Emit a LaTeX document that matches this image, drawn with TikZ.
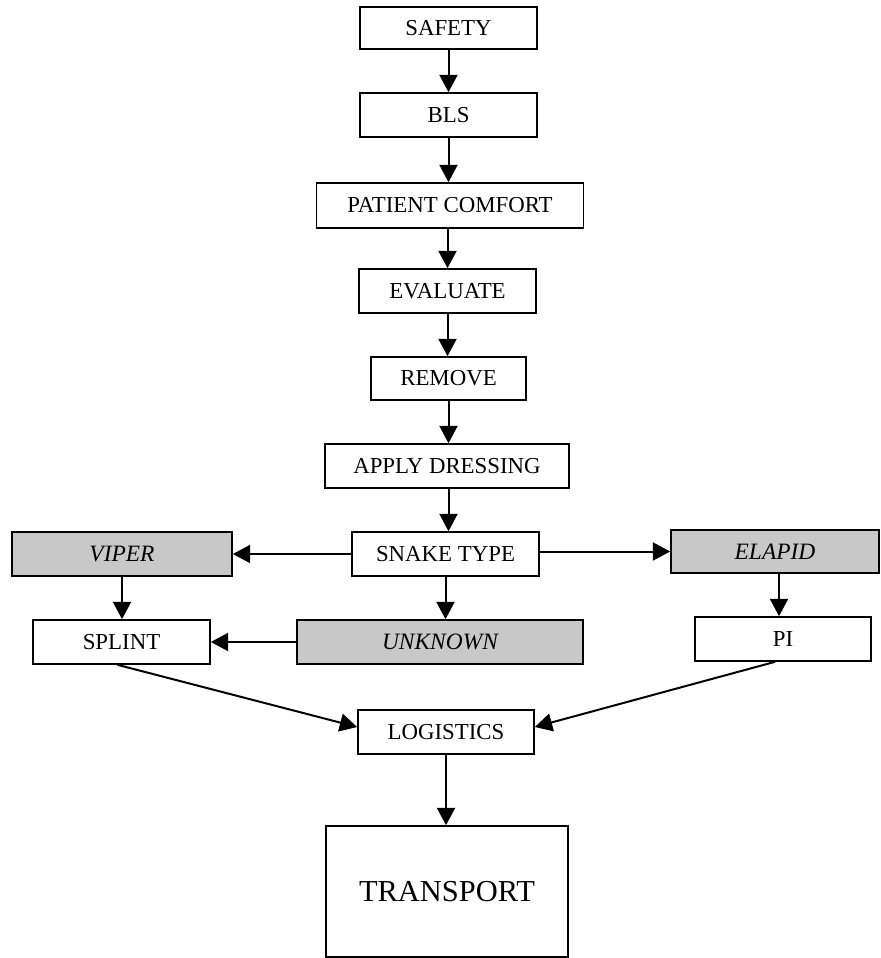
\documentclass[tikz,border=0pt]{standalone}
\usepackage{fontspec}
\setmainfont{Liberation Serif}
\usetikzlibrary{arrows.meta}
\definecolor{snakegray}{RGB}{200,200,200}
\tikzset{
  stepbox/.style={draw,line width=1.4pt,fill=white,inner sep=0pt,
    font=\fontsize{19.5}{22}\selectfont},
  typebox/.style={stepbox,fill=snakegray,font=\fontsize{20}{22}\selectfont\itshape},
  flow/.style={line width=1.7pt,-{Triangle[length=0.52cm,width=0.54cm]}}
}
\begin{document}
\begin{tikzpicture}[x=0.03cm,y=-0.03cm]
\useasboundingbox (0,0) rectangle (881,958);
% main column
\node[stepbox,minimum width=177*0.03cm,minimum height=42*0.03cm] (safety) at (448.5,28) {SAFETY};
\node[stepbox,minimum width=177*0.03cm,minimum height=44*0.03cm] (bls) at (448.5,115) {BLS};
\node[stepbox,minimum width=267*0.03cm,minimum height=45*0.03cm] (comfort) at (450,205.5) {PATIENT COMFORT};
\node[stepbox,minimum width=177*0.03cm,minimum height=44*0.03cm] (evaluate) at (447.5,291) {EVALUATE};
\node[stepbox,minimum width=155*0.03cm,minimum height=43*0.03cm] (remove) at (448.5,378.5) {REMOVE};
\node[stepbox,minimum width=244*0.03cm,minimum height=44*0.03cm] (dressing) at (447,466) {APPLY DRESSING};
\node[stepbox,minimum width=187*0.03cm,minimum height=44*0.03cm] (snake) at (445.5,554) {SNAKE TYPE};
% snake types
\node[typebox,minimum width=220*0.03cm,minimum height=44*0.03cm] (viper) at (122,554) {VIPER};
\node[typebox,minimum width=208*0.03cm,minimum height=43*0.03cm] (elapid) at (775,551.5) {ELAPID};
\node[typebox,minimum width=286*0.03cm,minimum height=44*0.03cm] (unknown) at (440,642) {UNKNOWN};
% treatment
\node[stepbox,minimum width=177*0.03cm,minimum height=44*0.03cm] (splint) at (121.5,642) {SPLINT};
\node[stepbox,minimum width=176*0.03cm,minimum height=44*0.03cm] (pi) at (783,639) {PI};
\node[stepbox,minimum width=176*0.03cm,minimum height=44*0.03cm] (logistics) at (446,732) {LOGISTICS};
\node[stepbox,minimum width=242*0.03cm,minimum height=131*0.03cm,
  font=\fontsize{26}{30}\selectfont] (transport) at (447,891.5) {TRANSPORT};
% connectors
\draw[flow] (safety.south) -- (safety.south |- bls.north);
\draw[flow] (bls.south) -- (bls.south |- comfort.north);
\draw[flow] (evaluate.north |- comfort.south) -- (evaluate.north);
\draw[flow] (evaluate.south) -- (evaluate.south |- remove.north);
\draw[flow] (remove.south) -- (remove.south |- dressing.north);
\draw[flow] (remove.south |- dressing.south) -- (remove.south |- snake.north);
\draw[flow] (snake.west) -- (viper.east);
\draw[flow] (snake.east |- elapid.west) -- (elapid.west);
\draw[flow] (snake.south) -- (snake.south |- unknown.north);
\draw[flow] (viper.south) -- (viper.south |- splint.north);
\draw[flow] ([xshift=4*0.03cm]elapid.south) -- ([xshift=4*0.03cm]elapid.south |- pi.north);
\draw[flow] (unknown.west) -- (splint.east);
\draw[flow] ([xshift=-4*0.03cm]splint.south) -- ([yshift=5*0.03cm]logistics.west);
\draw[flow] ([xshift=-8*0.03cm]pi.south) -- ([yshift=5*0.03cm]logistics.east);
\draw[flow] (logistics.south) -- (logistics.south |- transport.north);
\end{tikzpicture}
\end{document}
